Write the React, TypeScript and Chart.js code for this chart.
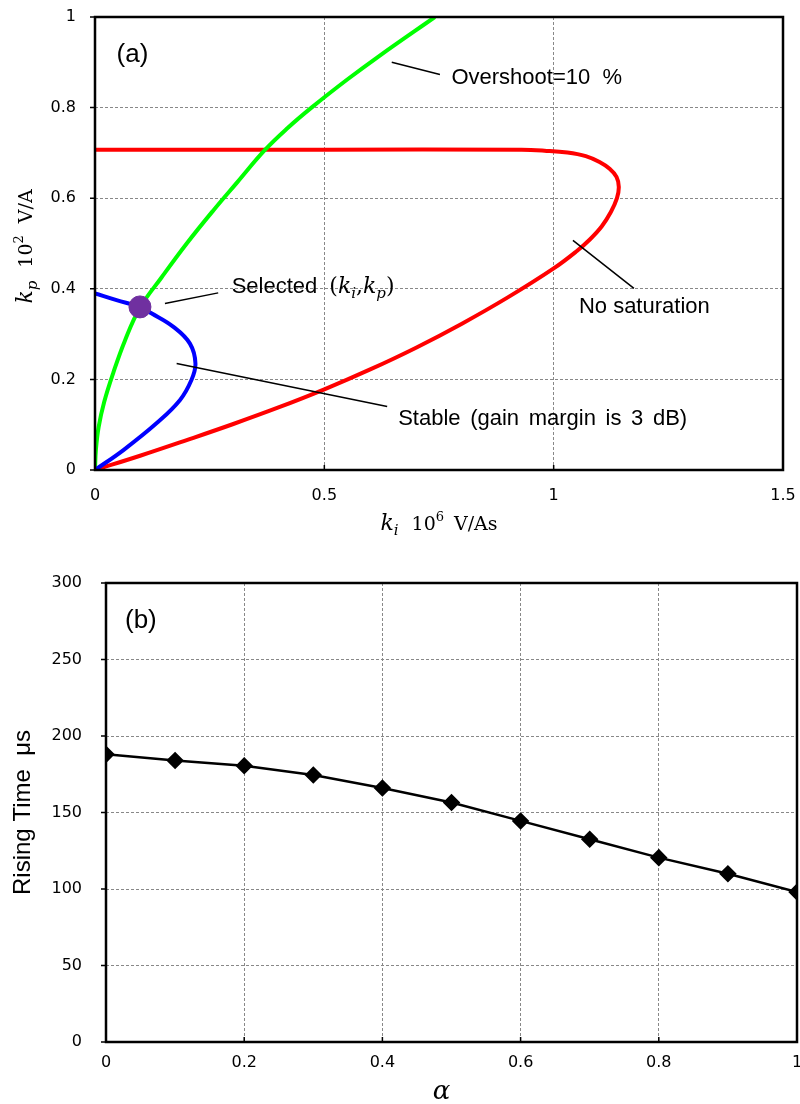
import React, { useEffect, useRef } from "react";
import { Chart, registerables } from "chart.js";

Chart.register(...registerables);

// ---------------- Panel (a) data ----------------
// "No saturation" boundary (red)
const noSatKi = [0, 0.1, 0.2, 0.3, 0.4, 0.5, 0.6, 0.7, 0.8, 0.9, 1.0, 1.05, 1.08, 1.105, 1.125, 1.138, 1.142, 1.137, 1.122, 1.1, 1.07, 1.03, 0.98, 0.93, 0.5, 0];
const noSatKp = [0, 0.032, 0.066, 0.101, 0.138, 0.178, 0.222, 0.27, 0.323, 0.381, 0.445, 0.483, 0.51, 0.538, 0.57, 0.6, 0.625, 0.647, 0.665, 0.68, 0.693, 0.701, 0.705, 0.707, 0.707, 0.707];
// "Overshoot = 10 %" curve (green)
const overshootKi = [0, 0.002, 0.008, 0.02, 0.04, 0.065, 0.098, 0.145, 0.2, 0.258, 0.31, 0.37, 0.42, 0.472, 0.55, 0.621, 0.741];
const overshootKp = [0, 0.045, 0.095, 0.15, 0.215, 0.285, 0.358, 0.425, 0.5, 0.573, 0.635, 0.706, 0.755, 0.8, 0.862, 0.915, 1.0];
// "Stable (gain margin is 3 dB)" boundary (blue)
const stableKi = [0, 0.062, 0.134, 0.185, 0.21, 0.219, 0.207, 0.171, 0.123, 0.098, 0.047, 0];
const stableKp = [0, 0.044, 0.103, 0.154, 0.198, 0.235, 0.279, 0.316, 0.346, 0.36, 0.375, 0.39];
// Selected (ki, kp)
const selectedKi = [0.098];
const selectedKp = [0.36];
const xTickLabelsA = ["0", "0.5", "1", "1.5"];
const yTickLabelsA = ["0", "0.2", "0.4", "0.6", "0.8", "1"];

// ---------------- Panel (b) data ----------------
const alphaValues = [0, 0.1, 0.2, 0.3, 0.4, 0.5, 0.6, 0.7, 0.8, 0.9, 1.0];
const risingTime = [188, 184, 180.5, 174.5, 166, 156.5, 144.5, 132.5, 120.5, 110, 98];
const xTickLabelsB = ["0", "0.2", "0.4", "0.6", "0.8", "1"];
const yTickLabelsB = ["0", "50", "100", "150", "200", "250", "300"];

const SANS = '"Liberation Sans", Arial, sans-serif';
const SERIF = '"DejaVu Serif", serif';
const TICK = '"DejaVu Sans", sans-serif';

const pts = (xs: number[], ys: number[]) => xs.map((x, i) => ({ x, y: ys[i] }));

type Seg = { t: string; f: string; dx?: number; dy?: number };
function segsWidth(ctx: CanvasRenderingContext2D, segs: Seg[]) {
  let w = 0;
  for (const s of segs) {
    ctx.font = s.f;
    w += (s.dx ?? 0) + ctx.measureText(s.t).width;
  }
  return w;
}
function drawSegs(ctx: CanvasRenderingContext2D, segs: Seg[], x: number, y: number) {
  let cx = x;
  for (const s of segs) {
    cx += s.dx ?? 0;
    ctx.font = s.f;
    ctx.fillText(s.t, cx, y + (s.dy ?? 0));
    cx += ctx.measureText(s.t).width;
  }
}

function drawFrame(chart: any, xInward: boolean) {
  const { ctx, chartArea: ca, scales } = chart;
  ctx.save();
  ctx.strokeStyle = "#000";
  ctx.lineWidth = 1.5;
  ctx.beginPath();
  scales.y.ticks.forEach((t: any) => {
    const p = scales.y.getPixelForValue(t.value);
    ctx.moveTo(ca.left - 5, p);
    ctx.lineTo(ca.left, p);
  });
  scales.x.ticks.forEach((t: any) => {
    const p = scales.x.getPixelForValue(t.value);
    ctx.moveTo(p, ca.bottom);
    ctx.lineTo(p, xInward ? ca.bottom - 5 : ca.bottom + 5);
  });
  ctx.stroke();
  ctx.lineWidth = 2.5;
  ctx.strokeRect(ca.left, ca.top, ca.right - ca.left, ca.bottom - ca.top);
  ctx.restore();
}

// annotation placements for panel (a) in data units
const leadersA = [
  [0.647, 0.9, 0.752, 0.873],
  [0.1525, 0.3676, 0.2686, 0.391],
  [0.178, 0.235, 0.637, 0.14],
  [1.042, 0.507, 1.175, 0.401],
];

const panelAPlugin = {
  id: "panelA",
  afterDraw(chart: any) {
    drawFrame(chart, true);
    const { ctx, chartArea: ca, scales } = chart;
    const X = (v: number) => scales.x.getPixelForValue(v);
    const Y = (v: number) => scales.y.getPixelForValue(v);
    ctx.save();
    ctx.strokeStyle = "#000";
    ctx.lineWidth = 1.5;
    ctx.beginPath();
    leadersA.forEach(([a, b, c, d]) => {
      ctx.moveTo(X(a), Y(b));
      ctx.lineTo(X(c), Y(d));
    });
    ctx.stroke();
    ctx.fillStyle = "#000";
    ctx.textAlign = "left";
    ctx.textBaseline = "alphabetic";
    ctx.font = `26px ${SANS}`;
    ctx.fillText("(a)", X(0.047), Y(0.9));
    ctx.font = `22px ${SANS}`;
    ctx.fillText("Overshoot=10  %", X(0.777), Y(0.853));
    ctx.fillText("No saturation", X(1.055), Y(0.347));
    (ctx as any).wordSpacing = "3.5px";
    ctx.fillText("Stable (gain margin is 3 dB)", X(0.661), Y(0.099));
    (ctx as any).wordSpacing = "0px";
    drawSegs(
      ctx,
      [
        { t: "Selected", f: `22px ${SANS}` },
        { t: "(", f: `22px ${SERIF}`, dx: 12 },
        { t: "k", f: `italic 22px ${SERIF}` },
        { t: "i", f: `italic 15px ${SERIF}`, dy: 5 },
        { t: ",", f: `22px ${SERIF}` },
        { t: "k", f: `italic 22px ${SERIF}` },
        { t: "p", f: `italic 15px ${SERIF}`, dy: 5 },
        { t: ")", f: `22px ${SERIF}` },
      ],
      X(0.298),
      Y(0.39)
    );
    // axis titles
    const xt: Seg[] = [
      { t: "k", f: `italic 22px ${SERIF}` },
      { t: "i", f: `italic 15px ${SERIF}`, dy: 5 },
      { t: "10", f: `19px ${SERIF}`, dx: 13 },
      { t: "6", f: `13px ${SERIF}`, dy: -9 },
      { t: "V/As", f: `19px ${SERIF}`, dx: 10 },
    ];
    const cx = (ca.left + ca.right) / 2;
    drawSegs(ctx, xt, cx - segsWidth(ctx, xt) / 2, 530);
    const yt: Seg[] = [
      { t: "k", f: `italic 22px ${SERIF}` },
      { t: "p", f: `italic 15px ${SERIF}`, dy: 5 },
      { t: "10", f: `19px ${SERIF}`, dx: 13 },
      { t: "2", f: `13px ${SERIF}`, dy: -9 },
      { t: "V/A", f: `19px ${SERIF}`, dx: 12 },
    ];
    const cy = (ca.top + ca.bottom) / 2 + 3;
    ctx.translate(32, cy);
    ctx.rotate(-Math.PI / 2);
    drawSegs(ctx, yt, -segsWidth(ctx, yt) / 2, 0);
    ctx.restore();
  },
};

const panelBPlugin = {
  id: "panelB",
  afterDraw(chart: any) {
    drawFrame(chart, true);
    const { ctx, chartArea: ca, scales } = chart;
    const X = (v: number) => scales.x.getPixelForValue(v);
    const Y = (v: number) => scales.y.getPixelForValue(v);
    ctx.save();
    ctx.fillStyle = "#000";
    ctx.textBaseline = "alphabetic";
    ctx.textAlign = "left";
    ctx.font = `26px ${SANS}`;
    ctx.fillText("(b)", X(0.0275), Y(270.6));
    ctx.textAlign = "center";
    ctx.font = `italic 26px ${SERIF}`;
    ctx.fillText("α", (ca.left + ca.right) / 2 - 10, 554);
    ctx.translate(30, (ca.top + ca.bottom) / 2);
    ctx.rotate(-Math.PI / 2);
    ctx.font = `24px ${SANS}`;
    ctx.fillText("Rising Time  μs", 0, 0);
    ctx.restore();
  },
};

function gridOpts(tickLength: number) {
  return {
    color: "#888888",
    lineWidth: 1,
    drawTicks: true,
    tickLength,
    tickColor: "rgba(0,0,0,0)",
  };
}

export default function App() {
  const refA = useRef<HTMLCanvasElement>(null);
  const refB = useRef<HTMLCanvasElement>(null);

  useEffect(() => {
    const chartA = new Chart(refA.current!, {
      type: "scatter",
      data: {
        datasets: [
          {
            label: "Selected",
            data: pts(selectedKi, selectedKp),
            pointRadius: 11,
            pointBackgroundColor: "#7030A0",
            pointBorderColor: "#7030A0",
            showLine: false,
          },
          {
            label: "Stable",
            data: pts(stableKi, stableKp),
            showLine: true,
            borderColor: "#0000FF",
            borderWidth: 4,
            pointRadius: 0,
            tension: 0.4,
          },
          {
            label: "Overshoot",
            data: pts(overshootKi, overshootKp),
            showLine: true,
            borderColor: "#00FF00",
            borderWidth: 4,
            pointRadius: 0,
            tension: 0.4,
          },
          {
            label: "No saturation",
            data: pts(noSatKi, noSatKp),
            showLine: true,
            borderColor: "#FF0000",
            borderWidth: 4,
            pointRadius: 0,
            tension: 0.4,
          },
        ],
      },
      options: {
        animation: false,
        responsive: false,
        layout: { padding: { top: 17, right: 17, left: 0, bottom: 0 } },
        plugins: { legend: { display: false }, tooltip: { enabled: false } },
        scales: {
          x: {
            type: "linear",
            min: 0,
            max: 1.5,
            afterFit: (s: any) => {
              s.height = 75;
            },
            ticks: {
              stepSize: 0.5,
              padding: 0,
              color: "#000",
              font: { family: TICK, size: 16 },
              callback: (_v: any, i: number) => xTickLabelsA[i],
              maxRotation: 0,
            },
            grid: gridOpts(16),
            border: { display: false, dash: [3, 2] },
          },
          y: {
            type: "linear",
            min: 0,
            max: 1,
            afterFit: (s: any) => {
              s.width = 95;
            },
            ticks: {
              stepSize: 0.2,
              padding: 0,
              color: "#000",
              font: { family: TICK, size: 16 },
              callback: (_v: any, i: number) => yTickLabelsA[i],
            },
            grid: gridOpts(19),
            border: { display: false, dash: [3, 2] },
          },
        },
      } as any,
      plugins: [panelAPlugin],
    });

    const chartB = new Chart(refB.current!, {
      type: "scatter",
      data: {
        datasets: [
          {
            label: "Rising time",
            data: pts(alphaValues, risingTime),
            showLine: true,
            borderColor: "#000",
            borderWidth: 2.5,
            pointStyle: "rectRot",
            pointRadius: 7,
            pointBackgroundColor: "#000",
            pointBorderColor: "#000",
            tension: 0,
          },
        ],
      },
      options: {
        animation: false,
        responsive: false,
        layout: { autoPadding: false, padding: { top: 38, right: 3, left: 0, bottom: 0 } },
        plugins: { legend: { display: false }, tooltip: { enabled: false } },
        scales: {
          x: {
            type: "linear",
            min: 0,
            max: 1,
            afterFit: (s: any) => {
              s.height = 62;
              s.paddingRight = 0;
              s.paddingLeft = 0;
            },
            ticks: {
              stepSize: 0.2,
              padding: 0,
              color: "#000",
              font: { family: TICK, size: 16 },
              callback: (_v: any, i: number) => xTickLabelsB[i],
              maxRotation: 0,
            },
            grid: gridOpts(11),
            border: { display: false, dash: [3, 2] },
          },
          y: {
            type: "linear",
            min: 0,
            max: 300,
            afterFit: (s: any) => {
              s.width = 106;
            },
            ticks: {
              stepSize: 50,
              padding: 0,
              color: "#000",
              font: { family: TICK, size: 16 },
              callback: (_v: any, i: number) => yTickLabelsB[i],
            },
            grid: gridOpts(24),
            border: { display: false, dash: [3, 2] },
          },
        },
      } as any,
      plugins: [panelBPlugin],
    });

    return () => {
      chartA.destroy();
      chartB.destroy();
    };
  }, []);

  return (
    <div style={{ position: "absolute", left: 0, top: 0, width: 800, height: 1104, background: "#fff" }}>
      <canvas ref={refA} width={800} height={545} style={{ position: "absolute", left: 0, top: 0 }} />
      <canvas ref={refB} width={800} height={559} style={{ position: "absolute", left: 0, top: 545 }} />
    </div>
  );
}
